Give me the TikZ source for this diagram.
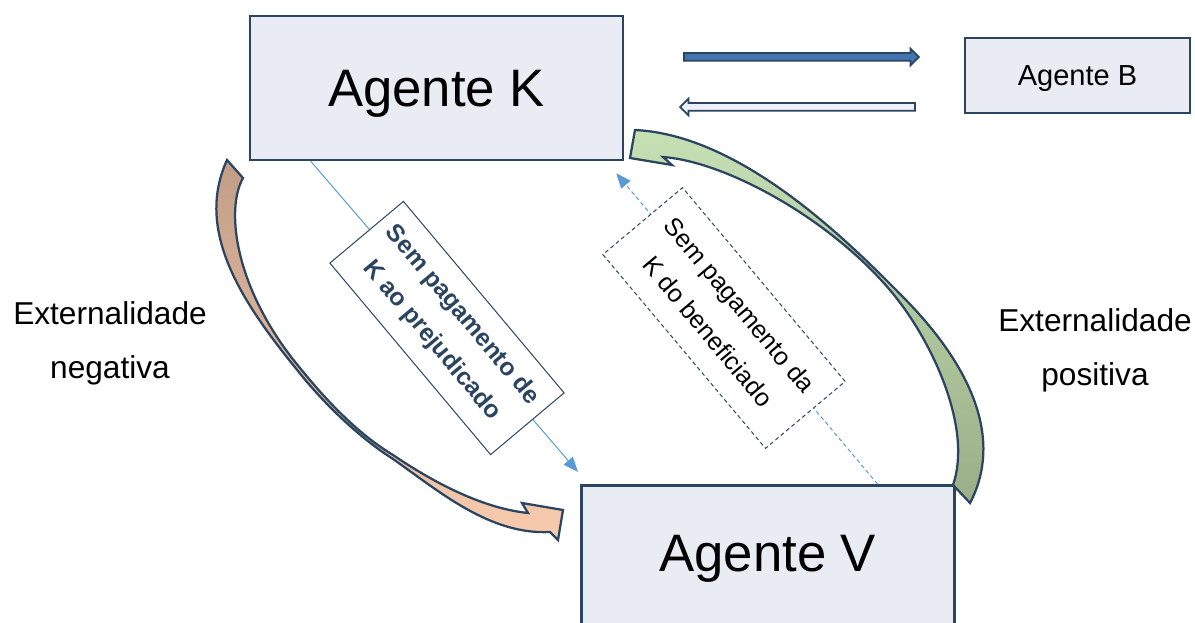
\documentclass[tikz,border=0pt]{standalone}
\usepackage{fontspec}
\setmainfont{Liberation Sans}
\usepackage{xcolor}
\usetikzlibrary{arrows.meta,shapes.arrows}

\definecolor{navy}{HTML}{2B4560}
\definecolor{boxfill}{HTML}{E9ECF2}
\definecolor{lineblue}{HTML}{5B9BD5}
\definecolor{arrowblue}{HTML}{4174B0}
\definecolor{arrowpale}{HTML}{EDF1F7}
\definecolor{brownA}{HTML}{C29E87}
\definecolor{peachA}{HTML}{F8CBAD}
\definecolor{greenA}{HTML}{C6E0B4}
\definecolor{oliveA}{HTML}{9AAF88}

\begin{document}
\begin{tikzpicture}[x=0.2mm, y=-0.2mm,
    agent/.style={draw=navy, line width=0.5mm, fill=boxfill, inner sep=0pt},
    bigarrow/.style={single arrow, draw=navy, line width=0.35mm, minimum height=47mm,
        text height=1.2mm, text depth=0pt, single arrow head extend=0.9mm, inner sep=0pt},
    flow/.style={draw=lineblue, line width=0.2mm, -{Triangle[length=3mm,width=2.4mm]}},
    note/.style={draw=navy, line width=0.2mm, fill=white, rotate=-50, align=center, inner sep=0pt},
    curvearrow/.style={draw=navy, line width=0.45mm, line join=miter},
    extlabel/.style={align=center, font=\fontsize{18}{30.6}\selectfont}]

        \useasboundingbox (0,0) rectangle (1195,623);
        \clip (0,0) rectangle (1195,623);

        % Agentes
        \node[agent, minimum width=74.6mm, minimum height=28.8mm, text height=7.6mm, text depth=0pt,
            font=\fontsize{30}{36}\selectfont] (K) at (436.5,88) {Agente K};
        \node[agent, minimum width=45mm, minimum height=15mm, text height=4.2mm, text depth=0pt,
            font=\fontsize{16.5}{20}\selectfont] (B) at (1077.5,75.5) {Agente B};
        \node[agent, anchor=north west, minimum width=74.6mm, text height=17.2mm, text depth=26mm,
            font=\fontsize{30}{36}\selectfont] (V) at (580,484) {Agente V};

        % Setas entre K e B
        \node[bigarrow, fill=arrowblue] (KtoB) at (799.5,57) {};
        \node[bigarrow, fill=arrowpale, shape border rotate=180] (BtoK) at (799.5,107) {};

        % Ligacoes finas
        \draw[flow] ([xshift=12.4mm]K.south west) -- ([xshift=-0.4mm,yshift=2.4mm]V.north west);
        \draw[flow, dash pattern=on 0.8mm off 0.6mm] ([xshift=-15.6mm]V.north east)
            -- ([xshift=-1.6mm,yshift=-2.4mm]K.south east);

        % Caixas rodadas
        \node[note, minimum width=50mm, minimum height=19.2mm, text=navy,
            font=\fontsize{14}{22.5}\selectfont\bfseries] (Sneg) at (447,328)
            {Sem pagamento de\\K ao prejudicado};
        \node[note, dash pattern=on 0.8mm off 0.6mm, minimum width=50.6mm, minimum height=20.8mm,
            font=\fontsize{14.3}{23.5}\selectfont] (Spos) at (724,318)
            {Sem pagamento da\\K do beneficiado};

        % Setas curvas
        \draw[curvearrow, top color=brownA, bottom color=peachA]
            (227,160) -- (243,178)
            .. controls (225,210) and (235,290) .. (300,368)
            .. controls (330,405) and (360,435) .. (393,455)
            .. controls (430,480) and (480,508) .. (528,513)
            -- (522,503) -- (563,510) -- (558,540) -- (550,532)
            .. controls (490,535) and (440,492) .. (393,459)
            .. controls (360,438) and (325,405) .. (298,371)
            .. controls (240,300) and (195,230) .. cycle;
        \draw[curvearrow, top color=greenA, bottom color=oliveA]
            (953,485) -- (970,503)
            .. controls (998,450) and (985,380) .. (903,297)
            .. controls (845,238) and (740,135) .. (635,130)
            -- (630,158) -- (672,165) -- (663,157)
            .. controls (730,162) and (840,225) .. (898,300)
            .. controls (935,348) and (972,430) .. cycle;

        % Externalidades
        \node[extlabel] (Eneg) at (110,343) {Externalidade\\negativa};
        \node[extlabel] (Epos) at (1095,350) {Externalidade\\positiva};
    \end{tikzpicture}
\end{document}
